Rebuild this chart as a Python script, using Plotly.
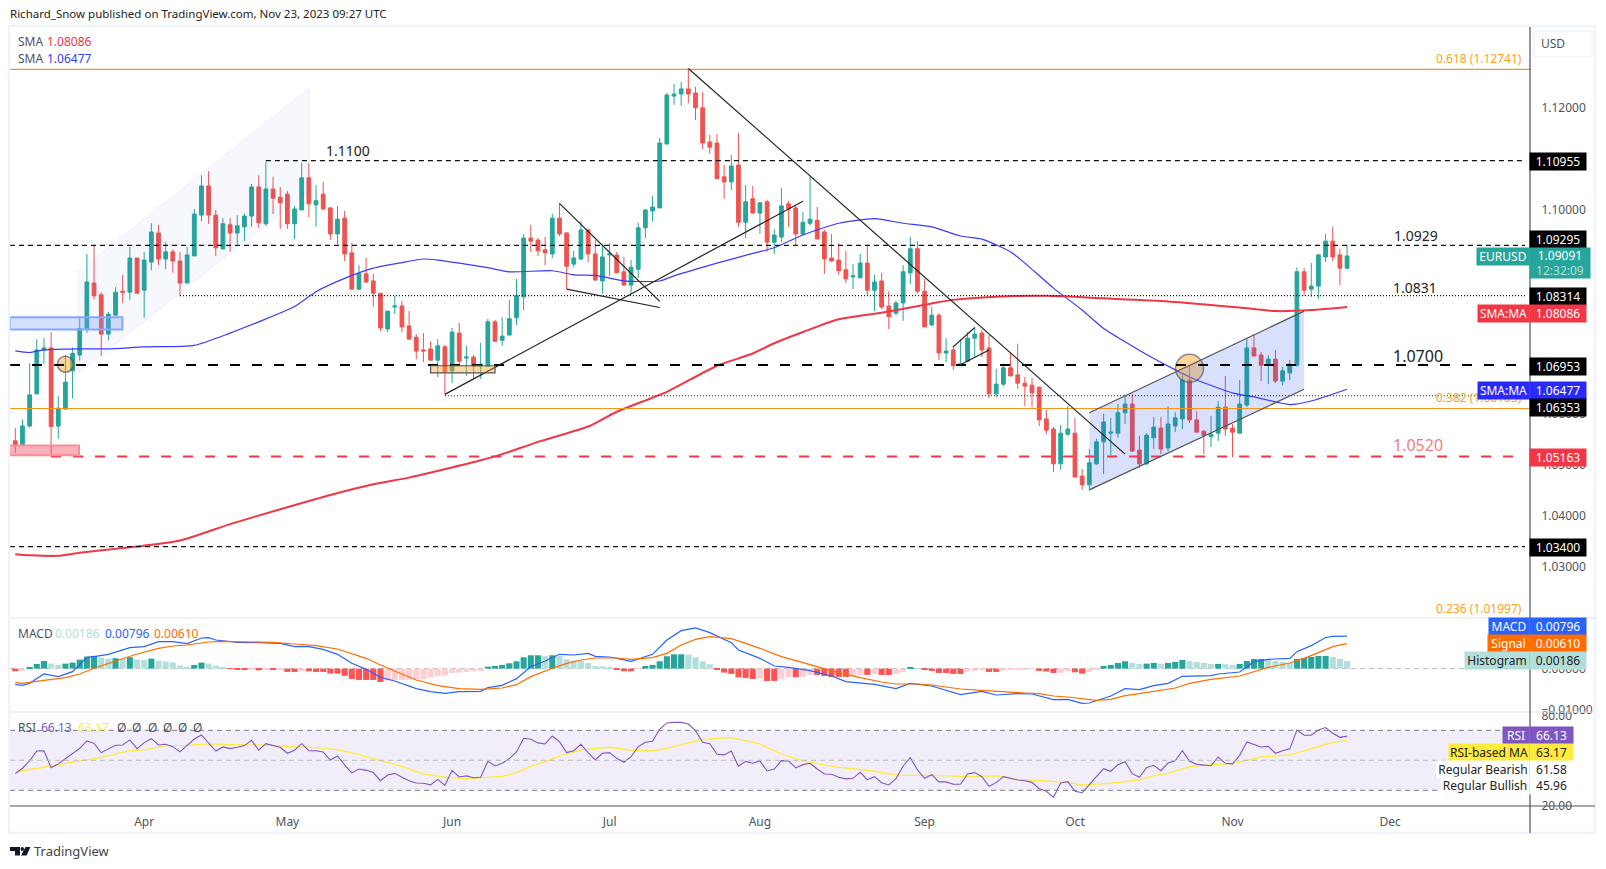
import plotly.graph_objects as go

# Values, one entry per trading day
opens = [1.0547,1.0539,1.0576,1.0639,1.0725,1.0729,1.0576,1.0609,1.0684,1.0715,
1.0767,1.0856,1.0833,1.0756,1.0793,1.0840,1.0838,1.0905,1.0842,1.0897,
1.0954,1.0903,1.0917,1.0899,1.0856,1.0909,1.0989,1.1046,1.0989,1.0923,
1.0970,1.0954,1.0966,1.0987,1.1044,1.0972,1.1040,1.1024,1.1030,1.0972,
1.0999,1.1062,1.1009,1.1030,1.1003,1.0952,1.0983,1.0915,1.0844,1.0874,
1.0860,1.0836,1.0766,1.0809,1.0811,1.0772,1.0750,1.0725,1.0727,1.0705,
1.0731,1.0684,1.0758,1.0709,1.0711,1.0693,1.0693,1.0780,1.0744,1.0754,
1.0788,1.0829,1.0944,1.0940,1.0921,1.0913,1.0983,1.0954,1.0893,1.0903,
1.0960,1.0913,1.0860,1.0911,1.0911,1.0878,1.0852,1.0883,1.0964,1.0997,
1.1003,1.1128,1.1222,1.1226,1.1236,1.1228,1.1199,1.1132,1.1130,1.1064,
1.1054,1.1087,1.0975,1.1021,1.0993,1.1015,1.0936,1.0946,1.1011,1.1003,
1.0952,1.0973,1.0979,1.0956,1.0905,1.0901,1.0882,1.0868,1.0866,1.0895,
1.0842,1.0860,1.0811,1.0797,1.0817,1.0876,1.0923,1.0840,1.0774,1.0793,
1.0719,1.0725,1.0694,1.0703,1.0748,1.0758,1.0729,1.0639,1.0658,1.0690,
1.0676,1.0660,1.0656,1.0652,1.0590,1.0570,1.0502,1.0560,1.0562,1.0478,
1.0461,1.0502,1.0545,1.0562,1.0562,1.0602,1.0619,1.0529,1.0502,1.0553,
1.0572,1.0533,1.0576,1.0590,1.0666,1.0588,1.0566,1.0555,1.0562,1.0613,
1.0572,1.0562,1.0617,1.0729,1.0715,1.0695,1.0707,1.0664,1.0680,1.0695,
1.0878,1.0844,1.0850,1.0907,1.0938,1.0911,1.0885]
closes = [1.0539,1.0576,1.0637,1.0725,1.0729,1.0575,1.0611,1.0662,1.0718,1.0767,
1.0858,1.0831,1.0756,1.0795,1.0838,1.0838,1.0905,1.0836,1.0901,1.0956,
1.0903,1.0917,1.0899,1.0856,1.0911,1.0991,1.1046,1.0989,1.0925,1.0972,
1.0954,1.0968,1.0987,1.1044,1.0974,1.1040,1.1022,1.1013,1.0972,1.1001,
1.1062,1.1011,1.1017,1.1001,1.0952,1.0981,1.0913,1.0844,1.0874,1.0858,
1.0836,1.0768,1.0801,1.0811,1.0770,1.0746,1.0723,1.0723,1.0705,1.0733,
1.0682,1.0760,1.0703,1.0711,1.0693,1.0697,1.0780,1.0742,1.0752,1.0786,
1.0831,1.0944,1.0938,1.0919,1.0915,1.0983,1.0952,1.0889,1.0905,1.0960,
1.0913,1.0862,1.0907,1.0913,1.0876,1.0852,1.0887,1.0964,1.0999,1.1005,
1.1130,1.1224,1.1226,1.1236,1.1226,1.1199,1.1130,1.1122,1.1060,1.1054,
1.1085,1.0975,1.1015,1.0993,1.1013,1.0936,1.0950,1.1007,1.1001,1.0952,
1.0975,1.0981,1.0942,1.0903,1.0899,1.0880,1.0864,1.0870,1.0895,1.0842,
1.0858,1.0809,1.0790,1.0817,1.0878,1.0923,1.0840,1.0770,1.0793,1.0719,
1.0723,1.0694,1.0698,1.0748,1.0756,1.0725,1.0639,1.0658,1.0690,1.0674,
1.0660,1.0654,1.0641,1.0588,1.0568,1.0502,1.0562,1.0570,1.0476,1.0461,
1.0504,1.0545,1.0584,1.0564,1.0602,1.0619,1.0527,1.0502,1.0558,1.0574,
1.0531,1.0580,1.0592,1.0666,1.0588,1.0564,1.0558,1.0560,1.0613,1.0570,
1.0564,1.0619,1.0729,1.0713,1.0695,1.0707,1.0664,1.0684,1.0697,1.0878,
1.0842,1.0850,1.0911,1.0938,1.0907,1.0885,1.0909]
highs = [1.0572,1.0589,1.0699,1.0746,1.0748,1.0760,1.0635,1.0715,1.0730,1.0787,
1.0913,1.0930,1.0838,1.0799,1.0848,1.0872,1.0927,1.0905,1.0917,1.0973,
1.0970,1.0936,1.0922,1.0917,1.0927,1.1001,1.1067,1.1075,1.0999,1.0983,
1.0983,1.0989,1.0992,1.1050,1.1067,1.1094,1.1064,1.1044,1.1036,1.1007,
1.1091,1.1091,1.1048,1.1054,1.1005,1.1007,1.0997,1.0934,1.0891,1.0905,
1.0874,1.0836,1.0801,1.0831,1.0821,1.0801,1.0756,1.0758,1.0742,1.0746,
1.0735,1.0768,1.0778,1.0733,1.0715,1.0739,1.0786,1.0784,1.0789,1.0823,
1.0864,1.0952,1.0970,1.0944,1.0946,1.0991,1.1012,1.0956,1.0919,1.0977,
1.0962,1.0940,1.0932,1.0934,1.0917,1.0907,1.0901,1.0974,1.1001,1.1026,
1.1140,1.1228,1.1246,1.1250,1.1274,1.1240,1.1230,1.1146,1.1148,1.1087,
1.1107,1.1150,1.1048,1.1046,1.1013,1.1019,1.0962,1.1042,1.1017,1.1009,
1.0995,1.1064,1.1005,1.0960,1.0952,1.0934,1.0919,1.0893,1.0913,1.0931,
1.0872,1.0876,1.0840,1.0821,1.0891,1.0946,1.0938,1.0864,1.0809,1.0797,
1.0748,1.0733,1.0746,1.0760,1.0769,1.0764,1.0754,1.0688,1.0698,1.0718,
1.0737,1.0672,1.0670,1.0654,1.0607,1.0574,1.0578,1.0615,1.0592,1.0492,
1.0531,1.0551,1.0600,1.0592,1.0619,1.0637,1.0639,1.0557,1.0562,1.0594,
1.0594,1.0615,1.0603,1.0678,1.0694,1.0605,1.0568,1.0596,1.0625,1.0674,
1.0580,1.0666,1.0748,1.0756,1.0721,1.0715,1.0725,1.0692,1.0705,1.0887,
1.0885,1.0895,1.0913,1.0952,1.0966,1.0923,1.0930]
lows = [1.0524,1.0539,1.0573,1.0639,1.0697,1.0516,1.0551,1.0609,1.0630,1.0704,
1.0758,1.0824,1.0713,1.0744,1.0793,1.0817,1.0823,1.0836,1.0788,1.0881,
1.0891,1.0883,1.0876,1.0830,1.0856,1.0909,1.0977,1.0972,1.0909,1.0921,
1.0917,1.0932,1.0938,1.0966,1.0964,1.0968,1.0991,1.0962,1.0962,1.0942,
1.0999,1.0985,1.0966,1.0999,1.0940,1.0932,1.0899,1.0844,1.0842,1.0856,
1.0810,1.0762,1.0760,1.0795,1.0760,1.0746,1.0707,1.0701,1.0705,1.0672,
1.0638,1.0660,1.0693,1.0674,1.0668,1.0668,1.0693,1.0742,1.0733,1.0754,
1.0774,1.0803,1.0917,1.0909,1.0891,1.0905,1.0948,1.0844,1.0887,1.0901,
1.0897,1.0860,1.0835,1.0870,1.0876,1.0850,1.0835,1.0866,1.0944,1.0977,
1.1003,1.1128,1.1205,1.1203,1.1208,1.1175,1.1118,1.1109,1.1060,1.1021,
1.1038,1.0966,1.0944,1.0993,1.0952,1.0917,1.0913,1.0936,1.0966,1.0928,
1.0950,1.0968,1.0942,1.0874,1.0897,1.0872,1.0856,1.0844,1.0866,1.0833,
1.0801,1.0805,1.0766,1.0793,1.0782,1.0854,1.0835,1.0770,1.0772,1.0705,
1.0701,1.0686,1.0694,1.0701,1.0709,1.0711,1.0631,1.0633,1.0654,1.0674,
1.0649,1.0615,1.0613,1.0576,1.0560,1.0486,1.0490,1.0557,1.0476,1.0451,
1.0450,1.0500,1.0482,1.0519,1.0553,1.0580,1.0525,1.0494,1.0500,1.0531,
1.0521,1.0527,1.0564,1.0570,1.0582,1.0564,1.0521,1.0535,1.0547,1.0557,
1.0515,1.0562,1.0613,1.0713,1.0664,1.0658,1.0660,1.0656,1.0666,1.0692,
1.0831,1.0829,1.0825,1.0897,1.0899,1.0852,1.0883]

# Moving averages, read at the bars where the curve bends
sma50_bars = [0,2,4,9,13,18,25,30,34,39,42,46,50,54,57,59,62,66,69,75,78,81,85,87,90,92,98,103,106,110,115,120,124,128,132,135,139,141,145,149,152,155,158,162,165,170,173,178,181,186]
sma50 = [1.0723,1.0720,1.0725,1.0727,1.0727,1.0731,1.0734,1.0758,1.0780,1.0810,1.0839,1.0865,1.0885,1.0896,1.0903,1.0901,1.0895,1.0886,1.0878,1.0880,1.0872,1.0871,1.0860,1.0859,1.0860,1.0870,1.0895,1.0914,1.0925,1.0950,1.0973,1.0982,1.0973,1.0966,1.0948,1.0942,1.0917,1.0895,1.0846,1.0803,1.0767,1.0741,1.0716,1.0686,1.0666,1.0641,1.0633,1.0618,1.0625,1.0648]
sma200_bars = [0,2,6,9,15,23,30,37,44,50,55,61,65,68,73,80,84,91,98,103,106,110,115,121,128,131,137,144,152,161,171,176,181,186]
sma200 = [1.0325,1.0323,1.0322,1.0328,1.0337,1.0352,1.0384,1.0413,1.0441,1.0462,1.0475,1.0495,1.0509,1.0521,1.0545,1.0575,1.0604,1.0643,1.0694,1.0718,1.0738,1.0760,1.0785,1.0798,1.0816,1.0823,1.0829,1.0831,1.0826,1.0820,1.0808,1.0801,1.0803,1.0809]

macd_hist = [-.00065,-.00057,.00024,.00114,.00187,.00122,.00090,.00122,.00147,.00220,
.00293,.00310,.00269,.00244,.00253,.00228,.00277,.00220,.00212,.00244,
.00196,.00171,.00147,.00073,.00041,.00090,.00147,.00122,.00073,.00033,
-.00008,-.00033,-.00033,-.00016,-.00041,-.00016,-.00024,-.00016,-.00081,-.00081,
-.00065,-.00065,-.00081,-.00081,-.00122,-.00122,-.00179,-.00253,-.00277,-.00277,
-.00277,-.00326,-.00293,-.00285,-.00277,-.00269,-.00261,-.00253,-.00220,-.00179,
-.00171,-.00106,-.00098,-.00081,-.00065,-.00057,.00049,.00065,.00090,.00130,
.00179,.00277,.00326,.00326,.00302,.00326,.00310,.00228,.00196,.00187,
.00139,.00065,.00057,.00041,-.00016,-.00065,-.00065,-.00008,.00065,.00090,
.00179,.00302,.00350,.00350,.00342,.00277,.00179,.00106,-.00016,-.00098,
-.00130,-.00212,-.00228,-.00253,-.00244,-.00302,-.00302,-.00253,-.00204,-.00212,
-.00204,-.00155,-.00155,-.00179,-.00204,-.00204,-.00204,-.00179,-.00155,-.00155,
-.00130,-.00155,-.00155,-.00130,-.00081,.00041,.00008,-.00024,-.00057,-.00106,
-.00106,-.00130,-.00130,-.00073,-.00057,-.00016,-.00081,-.00081,-.00049,-.00033,
-.00024,-.00016,-.00008,-.00057,-.00073,-.00106,-.00098,-.00065,-.00090,-.00122,
-.00073,-.00024,.00065,.00090,.00139,.00179,.00139,.00114,.00122,.00139,
.00114,.00139,.00163,.00212,.00187,.00163,.00139,.00114,.00114,.00106,
.00090,.00114,.00187,.00236,.00236,.00212,.00187,.00163,.00139,.00236,
.00261,.00285,.00310,.00310,.00285,.00236,.00186]
macd_bars = [0,1,2,4,6,8,10,11,13,16,18,20,22,24,26,27,28,31,34,37,39,41,43,45,47,49,51,53,56,58,60,62,65,66,68,70,72,74,76,78,80,81,83,86,89,91,93,95,97,100,101,104,106,108,111,114,116,120,123,125,128,132,135,137,140,142,145,147,149,150,153,155,157,159,161,163,167,168,171,173,175,178,179,181,183,184,186]
macd_line = [-.00385,-.00409,-.00360,-.00132,-.00197,-.00075,.00275,.00292,.00349,.00512,.00536,.00659,.00659,.00610,.00748,.00756,.00699,.00642,.00634,.00618,.00536,.00536,.00471,.00349,.00129,-.00018,-.00214,-.00303,-.00491,-.00564,-.00605,-.00564,-.00556,-.00466,-.00409,-.00246,.00047,.00186,.00349,.00333,.00373,.00300,.00284,.00178,.00349,.00699,.00927,.00993,.00879,.00634,.00455,.00251,.00064,.00031,-.00051,-.00181,-.00319,-.00385,-.00491,-.00360,-.00425,-.00637,-.00556,-.00645,-.00613,-.00621,-.00760,-.00751,-.00849,-.00841,-.00670,-.00491,-.00515,-.00417,-.00360,-.00189,-.00173,-.00132,-.00083,.00170,.00227,.00251,.00414,.00561,.00760,.00790,.00796]
signal_bars = [0,1,4,7,9,11,14,17,20,22,24,27,29,33,36,39,42,45,47,49,51,53,56,59,62,65,68,70,72,75,77,79,81,84,86,89,91,93,95,97,100,102,104,107,109,112,115,118,121,123,126,128,132,135,138,141,143,145,147,149,151,153,155,157,160,162,164,167,171,173,175,178,180,182,184,186]
signal_line = [-.00336,-.00360,-.00287,-.00222,-.00132,.00007,.00186,.00357,.00496,.00553,.00577,.00650,.00667,.00650,.00642,.00601,.00561,.00479,.00373,.00251,.00088,-.00059,-.00279,-.00417,-.00491,-.00507,-.00474,-.00393,-.00197,.00007,.00129,.00210,.00259,.00259,.00227,.00267,.00373,.00577,.00716,.00781,.00732,.00618,.00496,.00292,.00194,.00064,-.00099,-.00222,-.00328,-.00377,-.00377,-.00401,-.00499,-.00531,-.00572,-.00597,-.00613,-.00670,-.00694,-.00743,-.00776,-.00751,-.00662,-.00613,-.00540,-.00474,-.00360,-.00262,-.00181,-.00067,.00031,.00137,.00251,.00390,.00536,.00610]

rsi = [41.1,44.7,49.6,56.2,56.4,45.1,47.6,50.9,54.7,58,62.9,61.3,55.1,57.3,60,60.2,63.6,57.8,61.8,64.4,
60.2,60.7,59.1,55.6,59.6,64.2,66.9,61.8,56.2,58.9,57.8,58.7,59.8,63.3,56.7,61.1,59.8,58.7,54.7,56.7,
61.1,56.4,56.4,55.6,50.2,52.9,46.9,41.6,44.2,43.3,41.8,36.4,40.2,41.3,38.7,36.4,34.9,34.7,33.6,37.3,
33.3,43.3,38.9,39.6,38.4,38.7,49.3,46.2,
48,51.1,55.6,64.7,64,61.6,60.9,66.2,62.4,55.1,56.4,60.7,55.1,50.2,54.7,55.1,51.3,48.7,52.4,59.1,
62,62.7,70.7,74.9,75.3,75.3,74.2,69.8,62,61.1,54,53.6,56.2,46,49.3,48,49.6,42.9,44.2,49.8,
49.6,44.9,47.1,48,44.2,40.9,40.7,38.7,37.6,38,42,37.1,39.1,35.1,33.6,37.8,46.2,51.8,43.6,38,
40.4,35.6,35.6,34,34,40.9,41.8,39.1,32.7,35.1,
39.1,38,36.9,36.4,35.3,31.1,29.3,25.3,34.9,35.8,29.3,28.4,33.6,39.1,44.4,42.7,47.1,49.1,41.1,38.7,
45.1,46.7,43.1,48.2,49.6,56.4,49.3,47.3,46.7,46.4,52.2,48,47.6,53.3,62.2,60.7,58.9,59.3,54.7,56.4,
57.6,70.2,66.7,66.7,70.2,71.8,68,65.3,66.13]
rsi_ma_bars = [0,2,5,9,12,16,18,21,24,27,31,34,39,42,45,48,51,54,57,60,63,65,68,70,72,74,76,79,83,86,89,91,94,96,100,104,107,110,114,118,120,122,124,128,133,137,140,144,147,149,153,157,159,161,164,167,170,174,178,181,184,186]
rsi_ma = [42.2,43.6,46.2,49.6,52,56.4,56.9,59.8,60,60.9,60.2,60.2,59.3,58.4,57.1,53.8,49.8,46,40.9,38.7,37.8,38.2,39.3,41.8,46,49.1,52.9,56.9,58.7,56.7,56.2,58,61.8,64,65.1,60.9,54.2,49.6,46,43.6,42.7,40.9,40,40,39.1,39.6,37.3,36.2,35.1,33.6,34.7,36.9,39.8,41.3,45.8,47.1,47.8,52.2,53.6,57.6,62,63.17]

month_bars = [18, 38, 61, 83, 104, 127, 148, 170, 192]
month_labels = ["Apr", "May", "Jun", "Jul", "Aug", "Sep", "Oct", "Nov", "Dec"]
price_ticks = [1.12, 1.10, 1.06, 1.05, 1.04, 1.03]
macd_ticks = [0.0, -0.01]
rsi_ticks = [80, 20]

# Fibonacci and support / resistance levels
fib_618 = 1.12741
fib_382 = 1.06103
level_1100 = 1.10955
level_1092 = 1.09295
level_1083 = 1.08314
level_1070 = 1.06953
level_1063 = 1.06353
level_1052 = 1.05163
level_1034 = 1.03400

# Hand drawn trend lines: bar, price, bar, price
trend_lines = [
    (94, 1.1276, 155, 1.0521),
    (60, 1.0638, 110, 1.1016),
    (76, 1.1012, 90, 1.0820),
    (77, 1.0844, 90, 1.0808),
    (131, 1.0731, 134, 1.0769),
    (132, 1.0696, 136, 1.0725),
    (150, 1.0602, 180, 1.0801),
    (150, 1.0451, 180, 1.0648),
]
rising_channel = [(8.85, 1.0880), (41, 1.1237), (41, 1.1036), (8.85, 1.0679)]
nov_channel = [(150, 1.0602), (180, 1.0801), (180, 1.0648), (150, 1.0451)]
circle_bars = [7, 164]
circle_prices = [1.0697, 1.0689]

# Pixel layout of the page
W, H = 1606, 869
LEFT, AXIS, RIGHT = 10, 1530, 1595
TOP, MAIN_BOTTOM, MACD_BOTTOM, RSI_BOTTOM, FOOT = 27, 618, 712, 806, 833
FIRST_BAR_PX, BAR_PX = 15.3, 7.16
FONT = "Noto Sans"
GREY = "#50535e"
TEAL = "#26a69a"
RED = "#f23645"
ORANGE = "#f7941d"


def px_x(px):
    return px / W


def px_y(py):
    return 1 - py / H


def price_at(py):
    return 1.12 - (py - 107.3) / 5108


def macd_at(py):
    return (668.6 - py) / 4090


def rsi_at(py):
    return 70 - (py - 730.3) / 1.5


x_range = [(LEFT - FIRST_BAR_PX) / BAR_PX, (AXIS - FIRST_BAR_PX) / BAR_PX]
bars = list(range(len(closes)))

# TradingView colours the histogram by direction, stronger when moving away from zero
hist_colors = []
for i, v in enumerate(macd_hist):
    prev = macd_hist[i - 1] if i else 0
    if v >= 0:
        hist_colors.append(TEAL if v >= prev else "#b2dfdb")
    else:
        hist_colors.append("#ff5252" if v <= prev else "#ffcdd2")

fig = go.Figure()
fig.add_trace(go.Candlestick(
    x=bars, open=opens, high=highs, low=lows, close=closes,
    increasing=dict(line=dict(color=TEAL, width=1), fillcolor=TEAL),
    decreasing=dict(line=dict(color="#ef5350", width=1), fillcolor="#ef5350"),
    whiskerwidth=0, hoverinfo="skip", xaxis="x", yaxis="y",
))
fig.add_trace(go.Scatter(x=sma50_bars, y=sma50, mode="lines", hoverinfo="skip",
                         line=dict(color="#3a3aff", width=1.2, shape="spline", smoothing=0.6)))
fig.add_trace(go.Scatter(x=sma200_bars, y=sma200, mode="lines", hoverinfo="skip",
                         line=dict(color=RED, width=2, shape="spline", smoothing=0.6)))
fig.add_trace(go.Scatter(x=circle_bars, y=circle_prices, mode="markers", hoverinfo="skip",
                         marker=dict(size=[16, 28], color="rgba(255,165,40,0.68)",
                                     line=dict(color="#555555", width=1.5))))

fig.add_trace(go.Bar(x=bars, y=macd_hist, marker=dict(color=hist_colors, line=dict(width=0)),
                     width=0.85, hoverinfo="skip", xaxis="x2", yaxis="y2"))
fig.add_trace(go.Scatter(x=macd_bars, y=macd_line, mode="lines", hoverinfo="skip", xaxis="x2", yaxis="y2",
                         line=dict(color="#2962ff", width=1.2)))
fig.add_trace(go.Scatter(x=signal_bars, y=signal_line, mode="lines", hoverinfo="skip", xaxis="x2", yaxis="y2",
                         line=dict(color="#ff6d00", width=1.2)))

fig.add_trace(go.Scatter(x=rsi_ma_bars, y=rsi_ma, mode="lines", hoverinfo="skip", xaxis="x3", yaxis="y3",
                         line=dict(color="#ffeb3b", width=1.3)))
fig.add_trace(go.Scatter(x=bars, y=rsi, mode="lines", hoverinfo="skip", xaxis="x3", yaxis="y3",
                         line=dict(color="#7e57c2", width=1.1)))


def level(price, start, color, width, dash, end=None):
    fig.add_shape(type="line", xref="x", yref="y", x0=start, x1=x_range[1] if end is None else end,
                  y0=price, y1=price, line=dict(color=color, width=width, dash=dash))


def polygon(points, fill, line_color="rgba(0,0,0,0)", width=0, xref="x", yref="y", layer="above"):
    path = "M " + " L ".join(f"{a},{b}" for a, b in points) + " Z"
    fig.add_shape(type="path", path=path, xref=xref, yref=yref, fillcolor=fill, layer=layer,
                  line=dict(color=line_color, width=width))


def box(x0, x1, y0, y1, fill, color, width):
    fig.add_shape(type="rect", xref="x", yref="y", x0=x0, x1=x1, y0=y0, y1=y1, fillcolor=fill,
                  line=dict(color=color, width=width))


def px_line(x0, y0, x1, y1, color, width=1, dash="solid", layer="above"):
    fig.add_shape(type="line", xref="paper", yref="paper", x0=px_x(x0), x1=px_x(x1), y0=px_y(y0), y1=px_y(y1),
                  line=dict(color=color, width=width, dash=dash), layer=layer)


polygon(rising_channel, "rgba(70,90,240,0.045)", "rgba(70,90,240,0.07)", 1)
polygon(nov_channel, "rgba(50,90,235,0.19)")
level(fib_618, x_range[0], ORANGE, 1.2, "solid")
level(fib_382, x_range[0], ORANGE, 1, "solid")
dash_end = (1525 - FIRST_BAR_PX) / BAR_PX
level(level_1100, 35, "#111111", 1.2, "5px,4px", dash_end)
level(level_1092, x_range[0], "#111111", 1.2, "5px,4px", dash_end)
level(level_1083, 23, "#111111", 1.2, "1px,2px", dash_end)
level(level_1070, x_range[0], "#000000", 2, "10px,12px", dash_end)
level(level_1063, 60, "#111111", 1.2, "1px,2px", dash_end)
level(level_1052, 5, RED, 2, "10px,12px", dash_end)
level(level_1034, x_range[0], "#111111", 1.2, "5px,4px", dash_end)
for x0, y0, x1, y1 in trend_lines[:6]:
    fig.add_shape(type="line", xref="x", yref="y", x0=x0, x1=x1, y0=y0, y1=y1, line=dict(color="#222222", width=1.2))
for x0, y0, x1, y1 in trend_lines[6:]:
    fig.add_shape(type="line", xref="x", yref="y", x0=x0, x1=x1, y0=y0, y1=y1, line=dict(color="#555555", width=1.2))
box(x_range[0], 14.95, 1.0765, 1.0789, "rgba(120,165,250,0.33)", "#82a8ff", 2)
box(x_range[0], 8.9, 1.0519, 1.0538, "rgba(245,80,100,0.45)", "#f78d98", 2)
box(58, 67, 1.0680, 1.0694, "rgba(255,165,40,0.42)", "#555555", 1.2)

# RSI band and guide lines
fig.add_shape(type="rect", xref="x3", yref="y3", x0=x_range[0], x1=x_range[1], y0=30, y1=70,
              fillcolor="rgba(126,87,194,0.1)", line=dict(width=0), layer="below")
for value, color in [(70, "#787b86"), (50, "#b8bac0"), (30, "#787b86")]:
    fig.add_shape(type="line", xref="x3", yref="y3", x0=x_range[0], x1=x_range[1], y0=value, y1=value,
                  line=dict(color=color, width=1, dash="5px,4px"))
fig.add_shape(type="line", xref="x2", yref="y2", x0=x_range[0], x1=x_range[1], y0=0, y1=0,
              line=dict(color="#b8bac0", width=1, dash="5px,4px"), layer="below")

# Chart frame and pane separators
fig.add_shape(type="rect", xref="paper", yref="paper", x0=px_x(LEFT - 1), x1=px_x(RIGHT), y0=px_y(FOOT), y1=px_y(TOP - 1),
              line=dict(color="#f0f3fa", width=2.5))
px_line(LEFT, MAIN_BOTTOM, RIGHT, MAIN_BOTTOM, "#e0e3eb", 1.2)
px_line(LEFT, MACD_BOTTOM, RIGHT, MACD_BOTTOM, "#e0e3eb", 1.2)
px_line(LEFT, RSI_BOTTOM, RIGHT, RSI_BOTTOM, GREY, 1.2)
px_line(AXIS, TOP, AXIS, FOOT, GREY, 1.2)
fig.add_shape(type="rect", xref="paper", yref="paper", x0=px_x(1534), x1=px_x(1592), y0=px_y(57), y1=px_y(31),
              line=dict(color="#f0f3fa", width=1.5))

# TradingView logo
polygon([(px_x(10), px_y(847)), (px_x(20), px_y(847)), (px_x(20), px_y(855.5)), (px_x(15), px_y(855.5)),
         (px_x(15), px_y(851)), (px_x(10), px_y(851))], "#131722", xref="paper", yref="paper")
polygon([(px_x(25.5), px_y(847)), (px_x(30.5), px_y(847)), (px_x(26.5), px_y(855.5)), (px_x(21), px_y(855.5))],
        "#131722", xref="paper", yref="paper")
fig.add_shape(type="circle", xref="paper", yref="paper", x0=px_x(20.5), x1=px_x(24), y0=px_y(851), y1=px_y(847),
              fillcolor="#131722", line=dict(width=0))


def label(text, x, y, color, size=12, anchor="left"):
    # annotations carry a little padding, shift so the glyphs start where the reference has them
    shift = {"left": -2, "right": 2, "center": 0}[anchor]
    fig.add_annotation(text=text, xref="paper", yref="paper", x=px_x(x), y=px_y(y), showarrow=False,
                       xanchor=anchor, yanchor="middle", xshift=shift, yshift=1,
                       font=dict(family=FONT, size=size, color=color))


def tag(text, x0, x1, y, bg, color="#ffffff", h=17, size=12):
    fig.add_annotation(text=text, xref="paper", yref="paper", x=px_x((x0 + x1) / 2), y=px_y(y), showarrow=False,
                       xanchor="center", yanchor="middle", width=x1 - x0, height=h, bgcolor=bg, borderpad=0,
                       font=dict(family=FONT, size=size, color=color))


label("Richard_Snow published on TradingView.com, Nov 23, 2023 09:27 UTC", 10, 15, "#222222", 11.5)
label("SMA", 18, 42, GREY)
label("1.08086", 47, 42, RED)
label("SMA", 18, 59, GREY)
label("1.06477", 47, 59, "#3a3aff")
label("MACD", 18, 634, GREY)
label("0.00186", 55, 634, "#b2dfdb")
label("0.00796", 105, 634, "#2962ff")
label("0.00610", 154, 634, "#ff6d00")
label("RSI", 18, 728, GREY)
label("66.13", 41, 728, "#7e57c2")
label("63.17", 78, 728, "#ffeb3b")
for x in (117, 132, 148, 163, 178, 193):
    label("Ø", x, 728, GREY)
label("TradingView", 34, 852, "#444444", 13)
label("USD", 1553, 44, GREY, 12, "center")

label("1.1100", 348, 151, "#222222", 14, "center")
label("1.0929", 1416, 236, "#222222", 14, "center")
label("1.0831", 1415, 288, "#222222", 14, "center")
label("1.0700", 1418, 357, "#222222", 16, "center")
label("1.0520", 1418, 446, "#f77c80", 16, "center")
label("0.618 (1.12741)", 1522, 59, "#ff9f1c", 12, "right")
label("0.382 (1.06103)", 1522, 398, "#ff9f1c", 12, "right")
label("0.236 (1.01997)", 1522, 609, "#ff9f1c", 12, "right")

tag("1.10955", AXIS, 1586, 161.3, "#000000")
tag("1.09295", AXIS, 1586, 239.5, "#000000")
tag("EURUSD", 1477, 1529, 256.5, TEAL)
tag("1.09091<br><span style='color:#b2dfdb'>12:32:09</span>", AXIS, 1590, 263.3, TEAL, h=30)
tag("1.08314", AXIS, 1586, 296.7, "#000000")
tag("SMA:MA", 1478, 1529, 313.3, RED)
tag("1.08086", AXIS, 1586, 313.3, RED)
tag("1.06953", AXIS, 1586, 366.7, "#000000")
tag("SMA:MA", 1478, 1529, 390.7, "#2a2aff")
tag("1.06477", AXIS, 1586, 390.7, "#2a2aff")
tag("1.06353", AXIS, 1586, 407.3, "#000000")
tag("1.05163", AXIS, 1586, 457.3, RED)
tag("1.03400", AXIS, 1586, 547.3, "#000000")
tag("MACD", 1489, 1529, 626.7, "#2962ff")
tag("0.00796", AXIS, 1586, 626.7, "#2962ff")
tag("Signal", 1488, 1529, 643.3, "#ff6d00")
tag("0.00610", AXIS, 1586, 643.3, "#ff6d00")
tag("Histogram", 1465, 1529, 660, "#b2dfdb", "#222222")
tag("0.00186", AXIS, 1586, 660, "#b2dfdb", "#222222")
tag("RSI", 1503, 1529, 735.7, "#7e57c2")
tag("66.13", AXIS, 1573, 735.7, "#7e57c2")
tag("RSI-based MA", 1449, 1529, 752.3, "#ffeb3b", "#222222")
tag("63.17", AXIS, 1573, 752.3, "#ffeb3b", "#222222")
tag("Regular Bearish", 1437, 1529, 769, "#ffffff", "#222222")
tag("61.58", AXIS, 1573, 769, "#ffffff", "#222222")
tag("Regular Bullish", 1441, 1529, 785.7, "#ffffff", "#222222")
tag("45.96", AXIS, 1573, 785.7, "#ffffff", "#222222")

x_common = dict(range=x_range, showgrid=False, zeroline=False, showline=False)
y_common = dict(side="right", showgrid=False, zeroline=False, showline=False, ticks="outside", ticklen=8,
                tickcolor="rgba(0,0,0,0)", tickfont=dict(family=FONT, size=12, color=GREY))
x_domain = [px_x(LEFT), px_x(AXIS)]
fig.update_layout(
    width=W, height=H, margin=dict(l=0, r=0, t=0, b=0, autoexpand=False), paper_bgcolor="white", plot_bgcolor="white",
    showlegend=False, hovermode=False, boxgap=0.25, bargap=0.15, dragmode=False,
    xaxis=dict(domain=x_domain, anchor="y", showticklabels=False, ticks="", rangeslider=dict(visible=False), **x_common),
    xaxis2=dict(domain=x_domain, anchor="y2", showticklabels=False, ticks="", **x_common),
    xaxis3=dict(domain=x_domain, anchor="y3", tickvals=month_bars, ticktext=month_labels, ticks="outside", ticklen=5,
                tickcolor="rgba(0,0,0,0)", tickfont=dict(family=FONT, size=12, color=GREY), **x_common),
    yaxis=dict(domain=[px_y(MAIN_BOTTOM), px_y(TOP)], anchor="x", range=[price_at(MAIN_BOTTOM), price_at(TOP)],
               tickvals=price_ticks, tickformat=".5f", **y_common),
    yaxis2=dict(domain=[px_y(MACD_BOTTOM), px_y(MAIN_BOTTOM)], anchor="x2", range=[macd_at(MACD_BOTTOM), macd_at(MAIN_BOTTOM)],
                tickvals=macd_ticks, tickformat=".5f", **y_common),
    yaxis3=dict(domain=[px_y(RSI_BOTTOM), px_y(MACD_BOTTOM)], anchor="x3", range=[rsi_at(RSI_BOTTOM), rsi_at(MACD_BOTTOM)],
                tickvals=rsi_ticks, tickformat=".2f", **y_common),
)

fig.write_html("out.html", config={"displayModeBar": False},
               post_script="document.body.style.margin='0';document.body.style.overflow='hidden';")
